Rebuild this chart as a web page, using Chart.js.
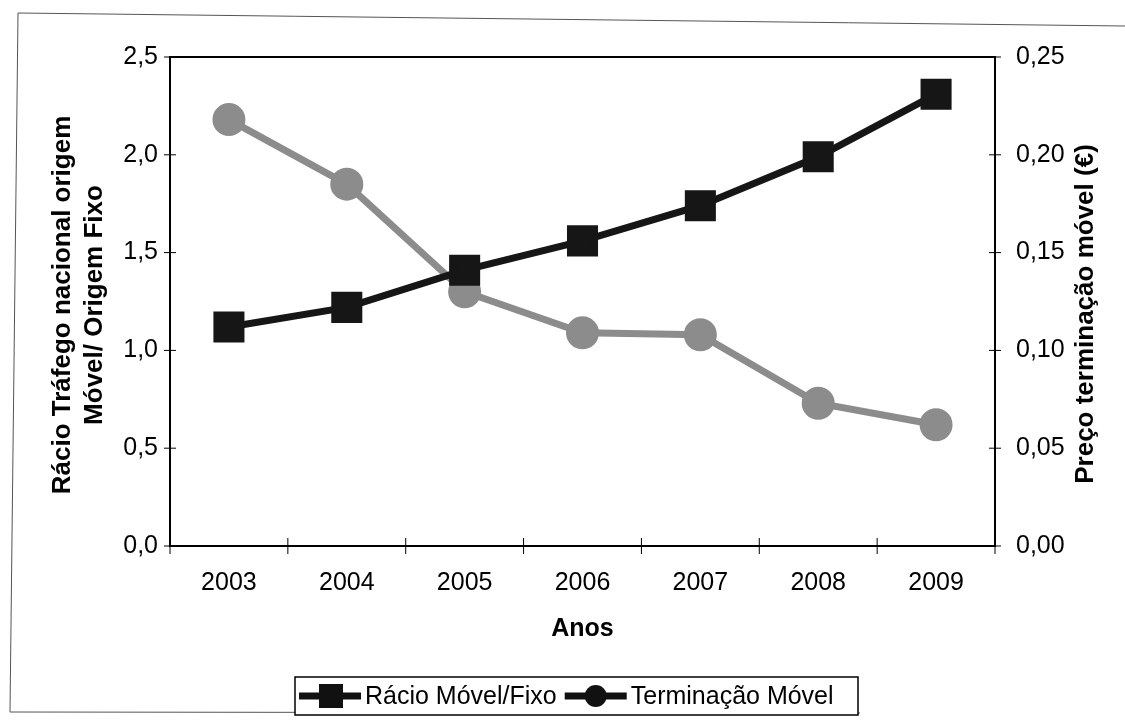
<!DOCTYPE html>
<html>
<head>
<meta charset="utf-8">
<script src="https://cdn.jsdelivr.net/npm/chart.js@4/dist/chart.umd.min.js"></script>
<style>
  html, body { margin: 0; padding: 0; background: #fff; }
  #wrap { width: 1125px; height: 720px; position: relative; }
</style>
</head>
<body>
<div id="wrap"><canvas id="chart" width="1125" height="720"></canvas></div>
<script>
const anos = ['2003', '2004', '2005', '2006', '2007', '2008', '2009'];
const racioMovelFixo = [1.12, 1.22, 1.41, 1.56, 1.74, 1.99, 2.31];
const terminacaoMovel = [0.218, 0.185, 0.130, 0.109, 0.108, 0.073, 0.062];
const ticksEsquerda = [0, 0.5, 1.0, 1.5, 2.0, 2.5];
const ticksDireita = [0, 0.05, 0.10, 0.15, 0.20, 0.25];
const tituloEsquerda = ['Rácio Tráfego nacional origem', 'Móvel/ Origem Fixo'];
const tituloDireita = 'Preço terminação móvel (€)';

const FONT = 'Arial, "Liberation Sans", sans-serif';

// frame of the scanned figure, axis titles, plot box, crossing tick marks and the legend
const extras = {
    id: 'extras',
    beforeDraw(chart) {
        const ctx = chart.ctx;
        ctx.save();
        ctx.fillStyle = '#fff';
        ctx.fillRect(0, 0, chart.width, chart.height);
        ctx.strokeStyle = '#555';
        ctx.lineWidth = 1;
        ctx.beginPath();
        ctx.moveTo(1125, 26);
        ctx.lineTo(18, 13);
        ctx.lineTo(10, 712);
        ctx.lineTo(860, 713);
        ctx.stroke();
        ctx.restore();
    },
    afterDraw(chart) {
        const ctx = chart.ctx;
        const a = chart.chartArea;
        const {x, y, y1} = chart.scales;
        ctx.save();
        ctx.strokeStyle = '#000';
        ctx.lineWidth = 2;
        ctx.strokeRect(a.left, a.top, a.right - a.left, a.bottom - a.top);
        ctx.lineWidth = 1;
        ctx.beginPath();
        ticksEsquerda.forEach(v => {
            const p = y.getPixelForValue(v);
            ctx.moveTo(a.left - 6, p); ctx.lineTo(a.left + 6, p);
        });
        ticksDireita.forEach(v => {
            const p = y1.getPixelForValue(v);
            ctx.moveTo(a.right - 6, p); ctx.lineTo(a.right + 6, p);
        });
        const step = x.getPixelForTick(1) - x.getPixelForTick(0);
        for (let i = 0; i <= anos.length; i++) {
            const p = x.getPixelForTick(0) - step / 2 + i * step;
            ctx.moveTo(p, a.bottom - 8); ctx.lineTo(p, a.bottom + 8);
        }
        ctx.stroke();

        // vertical axis titles, both read bottom to top
        ctx.fillStyle = '#000';
        ctx.font = 'bold 26px ' + FONT;
        ctx.textAlign = 'center';
        ctx.textBaseline = 'middle';
        ctx.save();
        ctx.translate(63, 305);
        ctx.rotate(-Math.PI / 2);
        ctx.fillText(tituloEsquerda[0], 0, 0);
        ctx.fillText(tituloEsquerda[1], 0, 32);
        ctx.restore();
        ctx.save();
        ctx.translate(1086, 314);
        ctx.rotate(-Math.PI / 2);
        ctx.fillText(tituloDireita, 0, 0);
        ctx.restore();

        // legend
        const lx = 295, ly = 677, lw = 563, lh = 38, cy = ly + lh / 2;
        ctx.fillStyle = '#fff';
        ctx.fillRect(lx, ly, lw, lh);
        ctx.strokeStyle = '#000';
        ctx.lineWidth = 1.5;
        ctx.strokeRect(lx, ly, lw, lh);
        ctx.font = '25px ' + FONT;
        ctx.textBaseline = 'middle';
        ctx.textAlign = 'left';
        let cx = lx + 4;
        chart.data.datasets.forEach((ds, i) => {
            ctx.strokeStyle = '#111';
            ctx.fillStyle = '#111';
            ctx.lineWidth = 7;
            ctx.beginPath();
            ctx.moveTo(cx, cy); ctx.lineTo(cx + 62, cy);
            ctx.stroke();
            if (i === 0) {
                ctx.fillRect(cx + 20, cy - 12, 24, 24);
            } else {
                ctx.beginPath();
                ctx.arc(cx + 31, cy, 11, 0, Math.PI * 2);
                ctx.fill();
            }
            ctx.fillStyle = '#000';
            ctx.fillText(ds.label, cx + 66, cy + 1);
            cx += 66 + ctx.measureText(ds.label).width + 8;
        });
        ctx.restore();
    }
};

new Chart(document.getElementById('chart'), {
    type: 'line',
    data: {
        labels: anos,
        datasets: [
            {
                label: 'Rácio Móvel/Fixo',
                data: racioMovelFixo,
                yAxisID: 'y',
                borderColor: '#161616',
                backgroundColor: '#161616',
                borderWidth: 7,
                pointStyle: 'rect',
                pointRadius: 17,
                tension: 0
            },
            {
                label: 'Terminação Móvel',
                data: terminacaoMovel,
                yAxisID: 'y1',
                borderColor: '#8c8c8c',
                backgroundColor: '#8c8c8c',
                borderWidth: 7,
                pointStyle: 'circle',
                pointRadius: 13,
                tension: 0
            }
        ]
    },
    options: {
        responsive: false,
        animation: false,
        layout: { padding: { left: 0, right: 0, top: 57, bottom: 76 } },
        plugins: {
            legend: { display: false },
            tooltip: { enabled: false }
        },
        scales: {
            x: {
                offset: true,
                grid: { display: false },
                border: { display: false },
                ticks: { color: '#000', font: { family: FONT, size: 25 }, padding: 14 },
                title: { display: true, text: 'Anos', color: '#000', font: { family: FONT, size: 25, weight: 'bold' }, padding: { top: 0, bottom: 0 } },
                afterFit(s) { s.height = 720 - 76 - 546; }
            },
            y: {
                position: 'left',
                min: 0, max: 2.5,
                afterBuildTicks(s) { s.ticks = ticksEsquerda.map(v => ({ value: v })); },
                grid: { display: false },
                border: { display: false },
                ticks: {
                    color: '#000', font: { family: FONT, size: 25 }, padding: 4,
                    callback: v => v.toFixed(1).replace('.', ',')
                },
                afterFit(s) { s.width = 170; }
            },
            y1: {
                position: 'right',
                min: 0, max: 0.25,
                afterBuildTicks(s) { s.ticks = ticksDireita.map(v => ({ value: v })); },
                grid: { display: false },
                border: { display: false },
                ticks: {
                    color: '#000', font: { family: FONT, size: 25 }, padding: 13,
                    callback: v => v.toFixed(2).replace('.', ',')
                },
                afterFit(s) { s.width = 1125 - 995; }
            }
        }
    },
    plugins: [extras]
});
</script>
</body>
</html>
